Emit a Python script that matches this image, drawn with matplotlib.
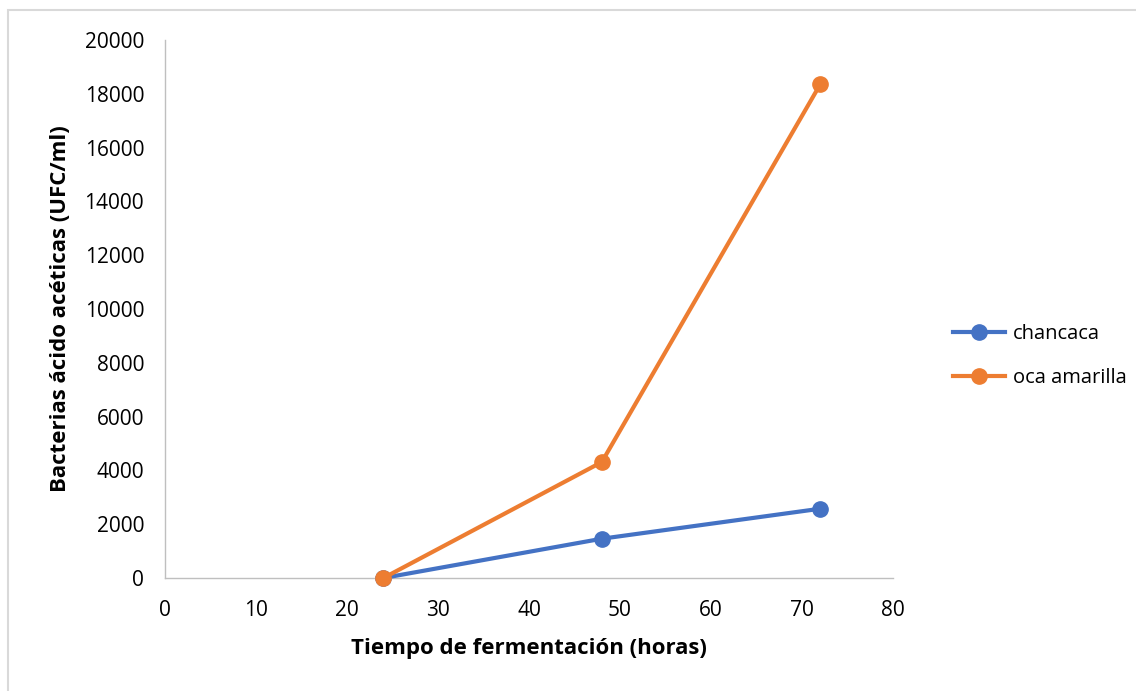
import matplotlib
matplotlib.use("Agg")
import matplotlib.pyplot as plt
from matplotlib.patches import Rectangle

plt.rcParams['font.family'] = ['Open Sans', 'DejaVu Sans']

horas = [24, 48, 72]
chancaca = [0, 1460, 2575]
oca_amarilla = [0, 4310, 18350]
x_ticks = [0, 10, 20, 30, 40, 50, 60, 70, 80]
y_ticks = [0, 2000, 4000, 6000, 8000, 10000, 12000, 14000, 16000, 18000, 20000]

fig = plt.figure(figsize=(11.36, 6.91), dpi=100)
W, H = 1136, 691
ax = fig.add_axes([165 / W, 1 - 578 / H, (893 - 165) / W, (578 - 40) / H])

ax.plot(horas, chancaca, color='#4472C4', lw=3, marker='o', ms=11, label='chancaca', zorder=3)
ax.plot(horas, oca_amarilla, color='#ED7D31', lw=3, marker='o', ms=11, label='oca amarilla', zorder=4)

ax.set_xlim(0, 80)
ax.set_ylim(0, 20000)
ax.set_xticks(x_ticks)
ax.set_yticks(y_ticks)
ax.tick_params(labelsize=15, length=0, colors='#000000')
ax.tick_params(axis='x', pad=16)
ax.tick_params(axis='y', pad=15)
for s in ['top', 'right']:
    ax.spines[s].set_visible(False)
for s in ['left', 'bottom']:
    ax.spines[s].set_color('#BFBFBF')
    ax.spines[s].set_linewidth(1)
for line in ax.lines:
    line.set_clip_on(False)

ax.set_xlabel('Tiempo de fermentación (horas)', fontsize=16, fontweight='bold', labelpad=12)
ax.set_ylabel('Bacterias ácido acéticas (UFC/ml)', fontsize=16, fontweight='bold', labelpad=10)

leg = fig.legend(loc='center left', bbox_to_anchor=(935 / W, 1 - 356 / H), frameon=False,
                 fontsize=14.5, handlelength=2.6, labelspacing=1.2, handletextpad=0.35)

fig.patches.append(Rectangle((8 / W, -0.1), 1.2, 1.1 - 10 / H, transform=fig.transFigure,
                             fill=False, edgecolor='#D9D9D9', lw=1.5, clip_on=False))

fig.savefig('out.png', dpi=100)
